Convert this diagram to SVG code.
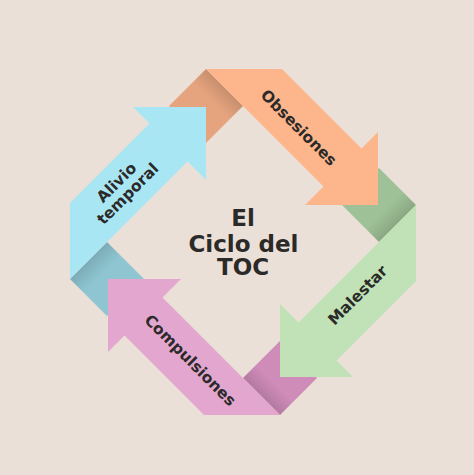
<svg xmlns="http://www.w3.org/2000/svg" width="474" height="475" viewBox="0 0 474 475">
<defs>
<style>
.lbl{font-family:"DejaVu Sans","Liberation Sans",sans-serif;font-weight:700;fill:#2b2a29;text-anchor:middle}
.arr{font-size:15.5px}
.ctr{font-size:23px}
</style>
<polygon id="arrowShape" points="206,69 282,69 361.5,148.5 378,132 378,205 305,205 323.5,186.5"/>
<polygon id="foldShape" points="206,69 243,106 206,143 169,106"/>
<linearGradient id="foldShade" x1="0.78" y1="0.28" x2="0.6" y2="0.46">
<stop offset="0" stop-color="#000" stop-opacity="0.13"/>
<stop offset="1" stop-color="#000" stop-opacity="0"/>
</linearGradient>
</defs>
<rect width="474" height="475" fill="#ebe0d7"/>
<g id="folds">
<g id="fold-orange"><use href="#foldShape" fill="#e6a47e"/><use href="#foldShape" fill="url(#foldShade)"/></g>
<g id="fold-green" transform="rotate(90 243 242)"><use href="#foldShape" fill="#9fc197"/><use href="#foldShape" fill="url(#foldShade)"/></g>
<g id="fold-pink" transform="rotate(180 243 242)"><use href="#foldShape" fill="#cf8cb9"/><use href="#foldShape" fill="url(#foldShade)"/></g>
<g id="fold-teal" transform="rotate(270 243 242)"><use href="#foldShape" fill="#8ec5d1"/><use href="#foldShape" fill="url(#foldShade)"/></g>
</g>
<g id="connectors"></g>
<g id="node-obsesiones">
<use href="#arrowShape" fill="#fdb68c"/>
<text class="lbl arr" transform="translate(299 127.5) rotate(45)" dy="0.36em">Obsesiones</text>
</g>
<g id="node-malestar">
<use href="#arrowShape" fill="#c0e2b6" transform="rotate(90 243 242)"/>
<text class="lbl arr" transform="translate(357.5 295) rotate(-45)" dy="0.36em">Malestar</text>
</g>
<g id="node-compulsiones">
<use href="#arrowShape" fill="#e3a6cf" transform="rotate(180 243 242)"/>
<text class="lbl arr" transform="translate(190.5 360) rotate(45)" dy="0.36em">Compulsiones</text>
</g>
<g id="node-alivio">
<use href="#arrowShape" fill="#a9e6f3" transform="rotate(270 243 242)"/>
<text class="lbl arr" transform="translate(122 188) rotate(-45)"><tspan x="0" y="-8" dy="0.36em">Alivio</tspan><tspan x="0" y="8" dy="0.36em">temporal</tspan></text>
</g>
<g id="node-center">
<text class="lbl ctr" x="243" y="225.7">El</text>
<text class="lbl ctr" x="243.5" y="251.5">Ciclo del</text>
<text class="lbl ctr" x="243" y="275">TOC</text>
</g>
</svg>
